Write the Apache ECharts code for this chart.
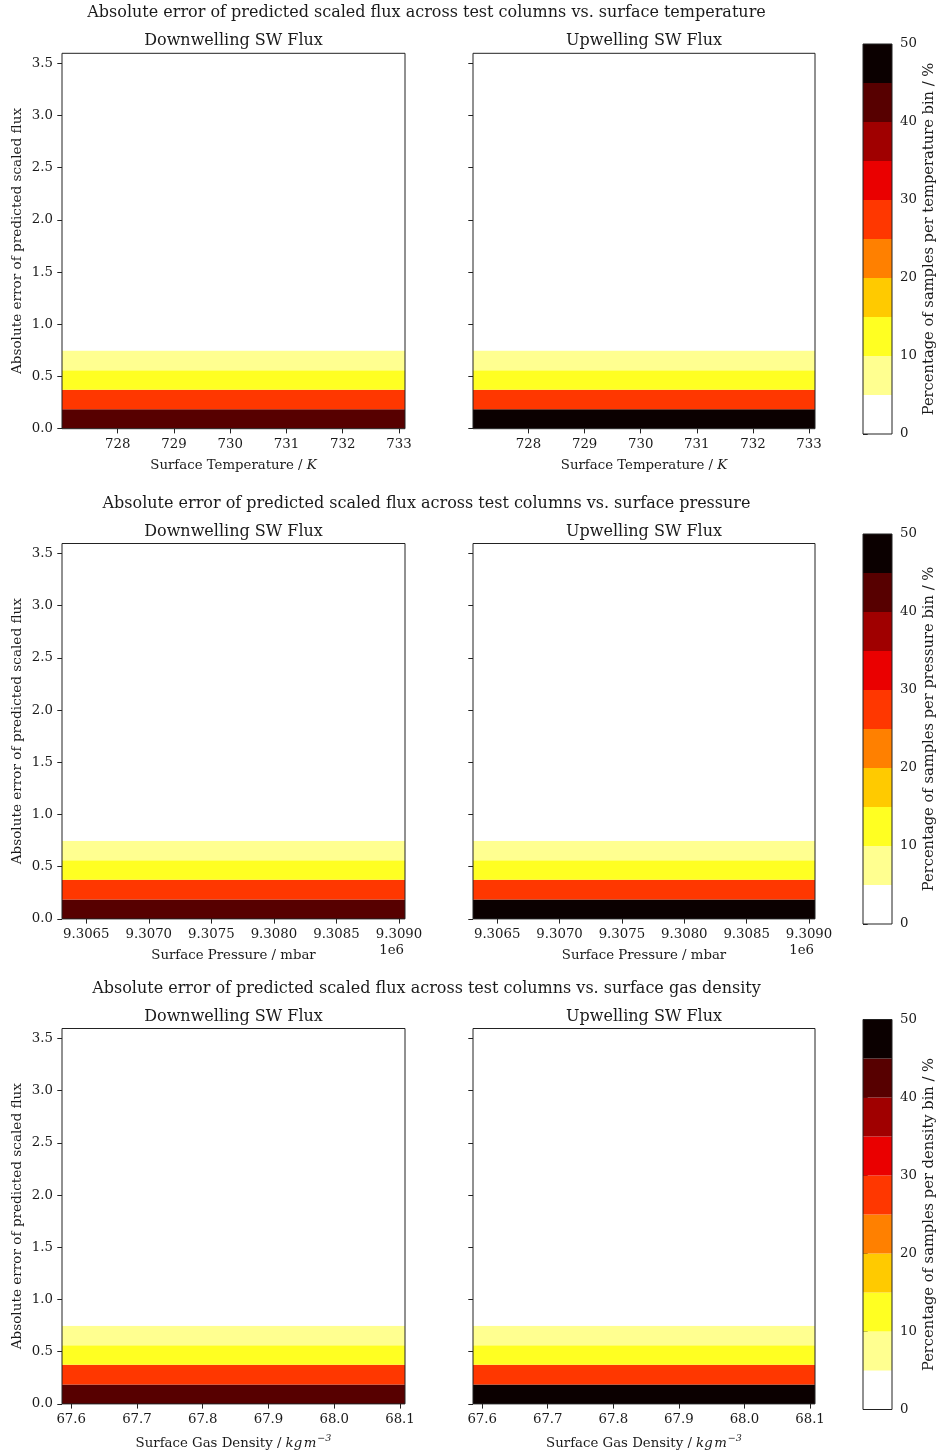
<!DOCTYPE html>
<html>
<head>
<meta charset="utf-8">
<script src="https://cdn.jsdelivr.net/npm/echarts@6/dist/echarts.min.js"></script>
<style>
html,body{margin:0;padding:0;background:#fff;}
#chart{width:938px;height:1454px;}
</style>
</head>
<body>
<div id="chart"></div>
<script>
// ---------------- data ----------------
const suptitles = [
  'Absolute error of predicted scaled flux across test columns vs. surface temperature',
  'Absolute error of predicted scaled flux across test columns vs. surface pressure',
  'Absolute error of predicted scaled flux across test columns vs. surface gas density'
];
const panelTitles = ['Downwelling SW Flux', 'Upwelling SW Flux'];
const cbarNames = [
  'Percentage of samples per temperature bin / %',
  'Percentage of samples per pressure bin / %',
  'Percentage of samples per density bin / %'
];
const xNames = [
  'Surface Temperature / {i|K}',
  'Surface Pressure / mbar',
  'Surface Gas Density / {i|kg}{s| }{i|m}{sup|−3}'
];
const yName = 'Absolute error of predicted scaled flux';

// x extents of the surface variables (one bin spans the shown range)
const tempRange = [727.01, 733.107];
const presRange = [9306306, 9309048];
const densRange = [67.586, 68.1076];

// tick values
const tempTicks = [728, 729, 730, 731, 732, 733];
const presTicks = [9306500, 9307000, 9307500, 9308000, 9308500, 9309000];
const densTicks = [67.6, 67.7, 67.8, 67.9, 68.0, 68.1];
const errTicks = [0, 0.5, 1.0, 1.5, 2.0, 2.5, 3.0, 3.5];
const cbarTicks = [0, 10, 20, 30, 40, 50];
const errMax = 3.596;

// absolute-error bin edges
const errEdges = [0, 0.187, 0.374, 0.561, 0.748, 0.935, 1.122, 1.309];

// percentage of samples per error bin (per x bin)
const downTemp = [42, 27, 12, 7, 4, 3, 2];
const upTemp   = [47, 27, 12, 7, 3, 2, 1];
const downPres = [42, 27, 12, 7, 4, 3, 2];
const upPres   = [47, 27, 12, 7, 3, 2, 1];
const downDens = [42, 27, 12, 7, 4, 3, 2];
const upDens   = [47, 27, 12, 7, 3, 2, 1];

// colour levels (hot_r, discrete)
const levels = [0, 5, 10, 15, 20, 25, 30, 35, 40, 45, 50];
const levelColors = ['#ffffff', '#ffff90', '#ffff22', '#ffca00', '#ff8000',
                     '#ff3700', '#ea0000', '#a00000', '#570000', '#0b0000'];

// ---------------- build ----------------
const FONT = 'DejaVu Serif';
const TXT = '#1a1a1a';
const rowTop = [53.3, 543.5, 1028.5];
const cbTop = [44, 534, 1019.5];
const plotH = 375.4;
const cbH = 390;
const leftX = [62, 473];
const plotW = [343, 342];

function colorFor(v) {
  for (let i = levels.length - 2; i >= 0; i--) {
    if (v >= levels[i]) return levelColors[i];
  }
  return levelColors[0];
}

const rows = [
  {range: tempRange, ticks: tempTicks, fmt: v => String(Math.round(v)), data: [downTemp, upTemp]},
  {range: presRange, ticks: presTicks, fmt: v => (v / 1e6).toFixed(4), data: [downPres, upPres]},
  {range: densRange, ticks: densTicks, fmt: v => v.toFixed(1), data: [downDens, upDens]}
];

const grids = [], xAxes = [], yAxes = [], series = [], graphics = [];

const tickLen = 4.7;
const axisLabelStyle = {fontFamily: FONT, fontSize: 13.3, color: TXT};

rows.forEach((row, r) => {
  // suptitle
  graphics.push({
    type: 'text', x: 426.5, y: rowTop[r] - 40,
    style: {text: suptitles[r], font: '16px "' + FONT + '"', fill: TXT, textAlign: 'center', textVerticalAlign: 'middle'}
  });
  for (let c = 0; c < 2; c++) {
    const gi = grids.length;
    grids.push({left: leftX[c], top: rowTop[r], width: plotW[c], height: plotH, z: 10,
      show: true, borderColor: '#222', borderWidth: 1, backgroundColor: 'transparent', containLabel: false});
    graphics.push({
      type: 'text', x: leftX[c] + plotW[c] / 2, y: rowTop[r] - 12,
      style: {text: panelTitles[c], font: '16px "' + FONT + '"', fill: TXT, textAlign: 'center', textVerticalAlign: 'middle'}
    });
    xAxes.push({
      type: 'value', gridIndex: gi, min: row.range[0], max: row.range[1],
      name: xNames[r], nameLocation: 'middle', nameGap: 30,
      nameTextStyle: {fontFamily: FONT, fontSize: 13.3, color: TXT, verticalAlign: 'top',
        rich: {
          i: {fontFamily: FONT, fontSize: 13.3, fontStyle: 'italic', color: TXT},
          s: {fontFamily: FONT, fontSize: 5, color: TXT},
          sup: {fontFamily: FONT, fontSize: 9.5, fontStyle: 'italic', color: TXT, padding: [0, 0, 9, 1]}
        }},
      axisLine: {show: false},
      splitLine: {show: false},
      axisTick: {show: true, length: tickLen, customValues: row.ticks, lineStyle: {color: '#222', width: 1}},
      axisLabel: {show: true, customValues: row.ticks, formatter: row.fmt, margin: 9, ...axisLabelStyle}
    });
    yAxes.push({
      type: 'value', gridIndex: gi, min: 0, max: errMax,
      name: c === 0 ? yName : '', nameLocation: 'middle', nameGap: 38,
      nameTextStyle: {fontFamily: FONT, fontSize: 13.6, color: TXT},
      axisLine: {show: false},
      splitLine: {show: false},
      axisTick: {show: true, length: tickLen, customValues: errTicks, lineStyle: {color: '#222', width: 1}},
      axisLabel: {show: c === 0, customValues: errTicks, formatter: v => v.toFixed(1), margin: 9, ...axisLabelStyle}
    });
    const vals = row.data[c];
    const sdata = vals.map((v, i) => [row.range[0], row.range[1], errEdges[i], errEdges[i + 1], v]);
    series.push({
      type: 'custom', xAxisIndex: gi, yAxisIndex: gi, clip: true, silent: true, z: 1,
      data: sdata, encode: {x: [0, 1], y: [2, 3]},
      renderItem: function (params, api) {
        const p0 = api.coord([api.value(0), api.value(3)]);
        const p1 = api.coord([api.value(1), api.value(2)]);
        return {type: 'rect', shape: {x: p0[0], y: p0[1], width: p1[0] - p0[0], height: p1[1] - p0[1]},
          style: {fill: colorFor(api.value(4)), stroke: null}};
      }
    });
    if (r === 1) {
      graphics.push({
        type: 'text', x: leftX[c] + plotW[c] - 1, y: 951,
        style: {text: '1e6', font: '13.3px "' + FONT + '"', fill: TXT, textAlign: 'right', textVerticalAlign: 'middle'}
      });
    }
  }
  // colorbar
  const ci = grids.length;
  grids.push({left: 863, top: cbTop[r], width: 30, height: cbH, z: 10,
    show: true, borderColor: '#222', borderWidth: 1, backgroundColor: 'transparent'});
  xAxes.push({type: 'value', gridIndex: ci, min: 0, max: 1, show: false});
  yAxes.push({
    type: 'value', gridIndex: ci, min: 0, max: 50, position: 'right',
    name: cbarNames[r], nameLocation: 'middle', nameGap: 30, nameRotate: 90,
    nameTextStyle: {fontFamily: FONT, fontSize: 14.7, color: TXT},
    axisLine: {show: false}, splitLine: {show: false},
    axisTick: {show: true, length: tickLen, customValues: cbarTicks, lineStyle: {color: '#222', width: 1}},
    axisLabel: {show: true, customValues: cbarTicks, margin: 8, ...axisLabelStyle}
  });
  const cdata = levelColors.map((col, i) => [levels[i], levels[i + 1], i]);
  series.push({
    type: 'custom', xAxisIndex: ci, yAxisIndex: ci, clip: true, silent: true, z: 1,
    data: cdata, encode: {y: [0, 1]},
    renderItem: function (params, api) {
      const p0 = api.coord([0, api.value(1)]);
      const p1 = api.coord([1, api.value(0)]);
      return {type: 'rect', shape: {x: p0[0], y: p0[1], width: p1[0] - p0[0], height: p1[1] - p0[1]},
        style: {fill: levelColors[api.value(2)], stroke: null}};
    }
  });
});

const chart = echarts.init(document.getElementById('chart'), null, {renderer: 'canvas'});
chart.setOption({
  backgroundColor: '#ffffff',
  animation: false,
  textStyle: {fontFamily: FONT},
  grid: grids,
  xAxis: xAxes,
  yAxis: yAxes,
  series: series,
  graphic: {elements: graphics}
});
</script>
</body>
</html>
